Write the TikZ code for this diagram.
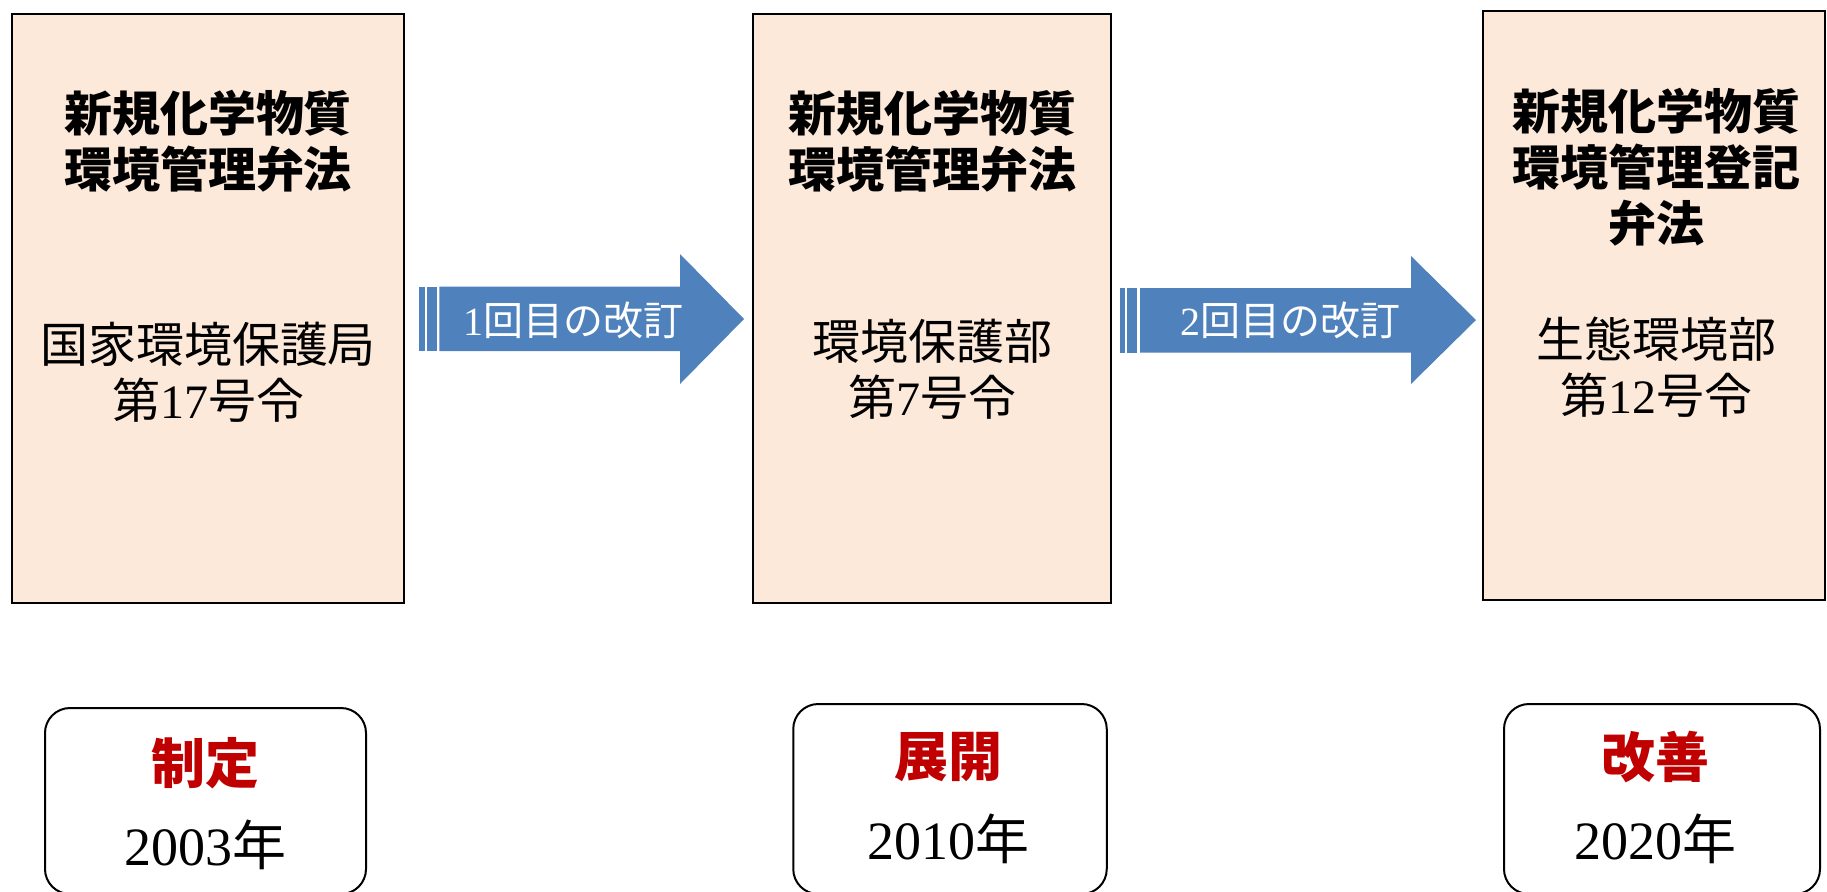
\documentclass[tikz,border=0pt]{standalone}
\usepackage{fontspec}
\setmainfont{Liberation Serif}
\newfontfamily\cjk{Noto Sans CJK JP}
\definecolor{peach}{HTML}{FDE9D9}
\definecolor{arrowblue}{HTML}{4F81BD}
\definecolor{lawred}{HTML}{C00000}
\begin{document}
\begin{tikzpicture}[x=0.5pt,y=-0.5pt]
\tikzset{
  lawbox/.style={draw=black, line width=0.8pt, fill=peach, inner sep=0, minimum height=294.5pt},
  yearbox/.style={draw=black, line width=1pt, rounded corners=12.5pt, inner sep=0, fill=white},
  titletext/.style={font=\cjk\bfseries\fontsize{24}{28}\selectfont, align=center, inner sep=0},
  bodytext/.style={font=\fontsize{24}{28}\selectfont, align=center, inner sep=0},
  arrowtext/.style={font=\fontsize{20}{24}\selectfont, text=white, inner sep=0},
  stagetext/.style={font=\cjk\bfseries\fontsize{27}{30}\selectfont, text=lawred, inner sep=0},
  yeartext/.style={font=\fontsize{27}{30}\selectfont, inner sep=0},
  arrowshape/.style={fill=arrowblue, draw=none}
}
\useasboundingbox (0,0) rectangle (1827,891);
\fill[white] (0,0) rectangle (1827,891);

% law boxes
\node[lawbox, minimum width=196pt] (b1) at (208,308.5) {};
\node[lawbox, minimum width=179pt] (b2) at (932,308.5) {};
\node[lawbox, minimum width=171pt] (b3) at (1654,305.5) {};

\node[titletext] (t1) at (208,141) {{新規化学物質}\\{環境管理弁法}};
\node[titletext] (t2) at (932,141) {{新規化学物質}\\{環境管理弁法}};
\node[titletext] (t3) at (1656,167) {{新規化学物質}\\{環境管理登記}\\{弁法}};

\node[bodytext] (d1) at (208,372) {{\cjk 国家環境保護局}\\{\cjk 第}17{\cjk 号令}};
\node[bodytext] (d2) at (932,369) {{\cjk 環境保護部}\\{\cjk 第}7{\cjk 号令}};
\node[bodytext] (d3) at (1656,367.5) {{\cjk 生態環境部}\\{\cjk 第}12{\cjk 号令}};

% striped arrow 1
\path[arrowshape] (419.3,286.7) rectangle (425,351);
\path[arrowshape] (427.3,286.7) rectangle (436.7,351);
\path[arrowshape] (439.3,286.7) -- (680,286.7) -- (680,254) -- (744,319)
   -- (680,384) -- (680,351) -- (439.3,351) -- cycle;
\node[arrowtext] (l1) at (573,320) {1{\cjk 回目の改訂}};

% striped arrow 2
\path[arrowshape] (1120,288) rectangle (1125,352.5);
\path[arrowshape] (1127,288) rectangle (1137,352.5);
\path[arrowshape] (1140,288) -- (1411,288) -- (1411,256) -- (1476,320)
   -- (1411,384) -- (1411,352.5) -- (1140,352.5) -- cycle;
\node[arrowtext] (l2) at (1290,320) {2{\cjk 回目の改訂}};

% year boxes
\node[yearbox, minimum width=160.5pt, minimum height=93pt] (y1) at (205.5,801) {};
\node[yearbox, minimum width=156.75pt, minimum height=95pt] (y2) at (950,799) {};
\node[yearbox, minimum width=158pt, minimum height=95pt] (y3) at (1662,799) {};

\node[stagetext] (s1) at (205,763) {制定};
\node[yeartext] (n1) at (205,845) {2003{\cjk 年}};
\node[stagetext] (s2) at (948,757) {展開};
\node[yeartext] (n2) at (948,839) {2010{\cjk 年}};
\node[stagetext] (s3) at (1655,757) {改善};
\node[yeartext] (n3) at (1655,839) {2020{\cjk 年}};
\end{tikzpicture}
\end{document}
